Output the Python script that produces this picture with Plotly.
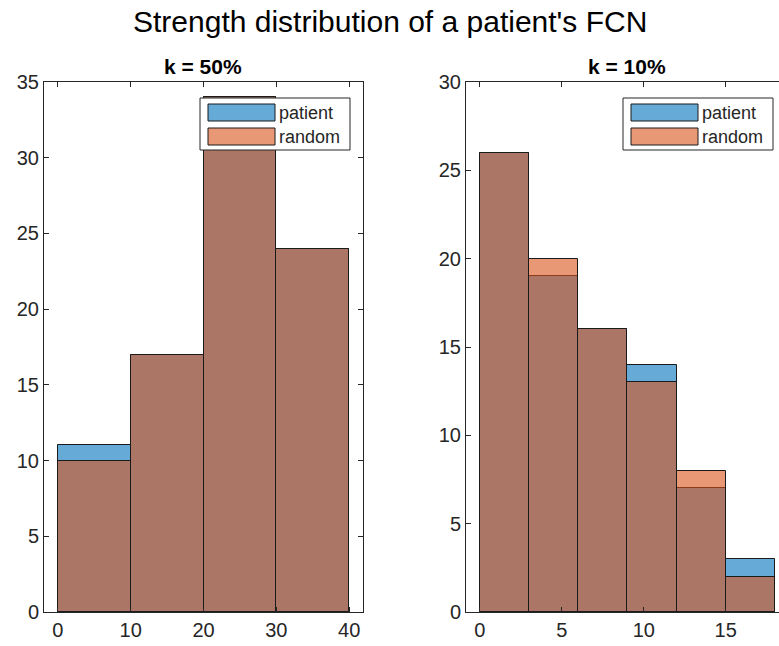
import plotly.graph_objects as go

# Histogram counts per bin (bin edges given separately)
edges_50 = [0, 10, 20, 30, 40]
patient_50 = [11, 17, 34, 24]
random_50 = [10, 17, 34, 24]

edges_10 = [0, 3, 6, 9, 12, 15, 18]
patient_10 = [26, 19, 16, 14, 7, 3]
random_10 = [26, 20, 16, 13, 8, 2]

series_names = ["patient", "random"]
fill_colors = ["rgba(0,114,189,0.6)", "rgba(217,83,25,0.6)"]
legend_colors = ["#66aad7", "#e89875"]

W, H = 779, 646
TXT = "#262626"
FONT = "Liberation Sans, Arial"


def centers(e):
    return [(a + b) / 2 for a, b in zip(e[:-1], e[1:])]


def widths(e):
    return [b - a for a, b in zip(e[:-1], e[1:])]


fig = go.Figure()
for edges, counts_list, xa, ya in [
    (edges_50, [patient_50, random_50], "x", "y"),
    (edges_10, [patient_10, random_10], "x2", "y2"),
]:
    for name, counts, col in zip(series_names, counts_list, fill_colors):
        fig.add_trace(go.Bar(
            x=centers(edges), y=counts, width=widths(edges), name=name,
            marker=dict(color=col, line=dict(color="#1a1a1a", width=1)),
            xaxis=xa, yaxis=ya, showlegend=False,
        ))

ydom = [(H - 612) / H, (H - 82) / H]
axis_common = dict(
    showline=True, linecolor=TXT, linewidth=1, ticks="inside", ticklen=5,
    tickcolor=TXT, showgrid=False, zeroline=False, automargin=False,
    tickfont=dict(family=FONT, size=20, color=TXT),
)

fig.update_layout(
    width=W, height=H, margin=dict(l=0, r=0, t=0, b=0),
    paper_bgcolor="white", plot_bgcolor="white", barmode="overlay",
    bargap=0,
    xaxis=dict(domain=[44 / W, 363 / W], range=[-1.9, 41.9],
               tickvals=[0, 10, 20, 30, 40], mirror="ticks", anchor="y", **axis_common),
    yaxis=dict(domain=ydom, range=[0, 35], tickvals=list(range(0, 36, 5)),
               mirror="ticks", anchor="x", **axis_common),
    xaxis2=dict(domain=[466 / W, 1.0], range=[-0.85, 18.25],
                tickvals=[0, 5, 10, 15], mirror="ticks", anchor="y2", **axis_common),
    yaxis2=dict(domain=ydom, range=[0, 30], tickvals=list(range(0, 31, 5)),
                anchor="x2", **axis_common),
    showlegend=False,
)

# Figure title and panel titles
fig.add_annotation(text="Strength distribution of a patient's FCN", xref="paper", yref="paper",
                   x=0.5, y=1 - 21 / H, xanchor="center", yanchor="middle", showarrow=False,
                   font=dict(family=FONT, size=30, color="black"))
for txt, xc in [("k = 50%", 203), ("k = 10%", 627)]:
    fig.add_annotation(text="<b>" + txt + "</b>", xref="paper", yref="paper",
                       x=xc / W, y=1 - 67 / H, xanchor="center", yanchor="middle",
                       showarrow=False, font=dict(family=FONT, size=21, color="black"))


# Legend boxes drawn in pixel coordinates of the page
def px(x):
    return x / W


def py(y):
    return 1 - y / H


for bx in [200, 623]:
    fig.add_shape(type="rect", xref="paper", yref="paper",
                  x0=px(bx), x1=px(bx + 150), y0=py(150), y1=py(98),
                  line=dict(color=TXT, width=1), fillcolor="white", layer="above")
    for i, (name, col) in enumerate(zip(series_names, legend_colors)):
        top = 104 + i * 24
        fig.add_shape(type="rect", xref="paper", yref="paper",
                      x0=px(bx + 8), x1=px(bx + 75), y0=py(top + 17), y1=py(top),
                      line=dict(color="#1a1a1a", width=1), fillcolor=col, layer="above")
        fig.add_annotation(text=name, xref="paper", yref="paper", x=px(bx + 77),
                           y=py(top + 8.5), xanchor="left", yanchor="middle", showarrow=False,
                           font=dict(family=FONT, size=18, color=TXT))

fig.write_html("out.html")
